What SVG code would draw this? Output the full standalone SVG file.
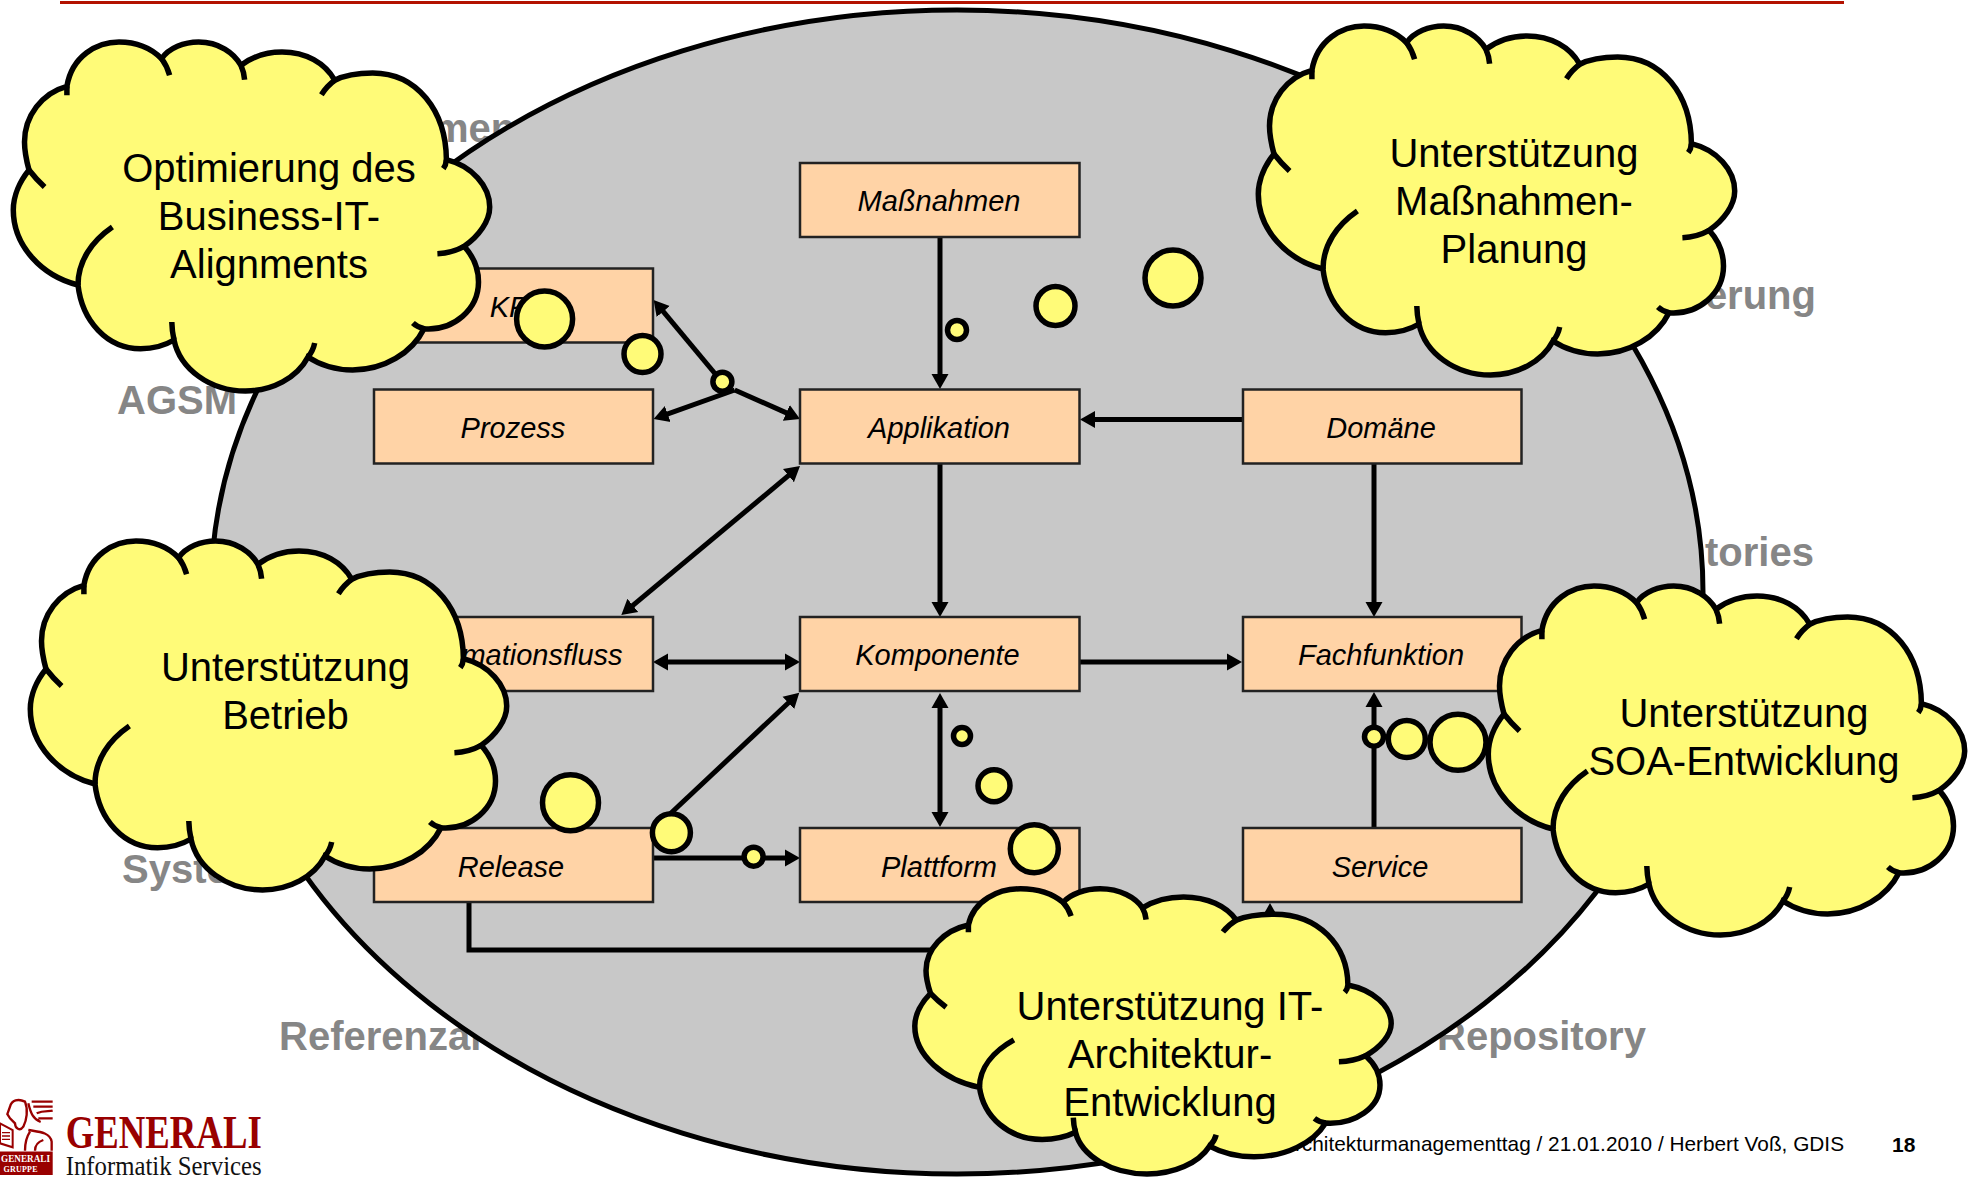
<svg xmlns="http://www.w3.org/2000/svg" width="1975" height="1178" viewBox="0 0 1975 1178">
<style>
.g{font:bold 40px "Liberation Sans",Arial,sans-serif;fill:#868686}
.r{fill:#ffd3a6;stroke:#222;stroke-width:2.5}
.rt{font:italic 29px "Liberation Sans",Arial,sans-serif;fill:#000;text-anchor:middle}
.c{font:40px "Liberation Sans",Arial,sans-serif;fill:#000;text-anchor:middle}
.b{fill:#fffb78;stroke:#000;stroke-width:5.5}
.l{fill:none;stroke:#000;stroke-width:5}
.cf{fill:#fffb78;stroke:#000;stroke-width:5.5;vector-effect:non-scaling-stroke}
.ct{fill:none;stroke:#000;stroke-width:5.5;vector-effect:non-scaling-stroke}
.lw{fill:none;stroke:#990000}
</style>
<defs>
<marker id="a" markerUnits="userSpaceOnUse" markerWidth="20" markerHeight="20" refX="5" refY="10" orient="auto-start-reverse" viewBox="0 0 20 20"><path d="M0 1.5L15 10L0 18.5Z" fill="#000"/></marker>
<g id="cloud">
<path class="cf" d="M54.9 45.3C60 15 85 1 107 1C125 1 140 8 149.6 17.7C157 7 172 1 186.6 1C207 1 222 12 229 24.3C240 16 254 11 270 11C294 11 313 22 322.8 39.3C333 34 347 32 360.7 32C405 32 434 70 434.4 118.7C460 125 477.7 145 477.7 166C477.7 180 467 195 452.2 205.3C461 215 466.5 228 466.5 241C466.5 268 442 290 412 287.7C400 312 372 329 340.6 329C323 329 308 324 296 316C285 337 260 350 233.5 350C198 350 168 328 162 299C152 305 141 307.7 128.6 307.7C95 307.7 70 280 66 244C30 235 1.3 205 1.3 169C1.3 155 8 140 17 129C14 118 12.5 110 12.5 101C12.5 75 30 52 54.9 45.3Z"/>
<path class="ct" d="M54.9 45.3V54.3M149.6 17.7Q155 25 157.6 34.3M229 24.3Q232 31 232.6 38.7M322.8 39.3Q315 45 309.4 53.7M434.4 118.7Q434 124 431.3 127.7M452.2 205.3Q440 212 425.4 212.7M412 287.7Q405 286 400.9 282M296 316Q301 310 302.7 302M162 299Q160 290 159.8 281M66 244C66 220 80 200 100.4 186M17 129Q24 138 32.6 146"/>
</g>
</defs>
<rect width="1975" height="1178" fill="#fff"/>
<path d="M60 2.5H1844" stroke="#b31200" stroke-width="3" fill="none"/>
<g id="labels">
<text class="g" x="433" y="142">men</text>
<text class="g" x="117" y="414">AGSM</text>
<text class="g" x="1816" y="309" text-anchor="end">erung</text>
<text class="g" x="1705" y="566">tories</text>
<text class="g" x="122" y="883">Syste</text>
<text class="g" x="279" y="1050">Referenzar</text>
<text class="g" x="1437" y="1050">Repository</text>
</g>
<ellipse id="scope" cx="957" cy="592" rx="746" ry="582" fill="#c8c8c8" stroke="#000" stroke-width="5"/>
<g id="connectors">
<g class="l">
<path d="M940 238V379" marker-end="url(#a)"/>
<path d="M1242 419.5H1090" marker-end="url(#a)"/>
<path d="M940 463V607" marker-end="url(#a)"/>
<path d="M1374 463V607" marker-end="url(#a)"/>
<path d="M663 662H790" marker-start="url(#a)" marker-end="url(#a)"/>
<path d="M1080 662H1232" marker-end="url(#a)"/>
<path d="M940 703V817" marker-start="url(#a)" marker-end="url(#a)"/>
<path d="M653 858H790" marker-end="url(#a)"/>
<path d="M1374 828V702" marker-end="url(#a)"/>
<path d="M469 902V950H1270V913" marker-end="url(#a)"/>
<path d="M629 608.6L792.3 472.4" marker-start="url(#a)" marker-end="url(#a)"/>
<path d="M653 830L792 699.5" marker-end="url(#a)"/>
<path d="M722 382L660 307.7" marker-end="url(#a)"/>
<path d="M734.7 390L663 415.6" marker-end="url(#a)"/>
<path d="M734.7 390L790.9 414.9" marker-end="url(#a)"/>
</g>
</g>
<g id="n-massnahmen"><rect class="r" x="800" y="163" width="279.5" height="74"/><text class="rt" x="939" y="211">Maßnahmen</text></g>
<g id="n-kpi"><rect class="r" x="374" y="268.5" width="279" height="74"/><text class="rt" x="513" y="317">KPI</text></g>
<g id="n-prozess"><rect class="r" x="374" y="389.5" width="279" height="74"/><text class="rt" x="513" y="438">Prozess</text></g>
<g id="n-applikation"><rect class="r" x="800" y="389.5" width="279.5" height="74"/><text class="rt" x="939" y="438">Applikation</text></g>
<g id="n-domaene"><rect class="r" x="1243" y="389.5" width="278.5" height="74"/><text class="rt" x="1381" y="438">Domäne</text></g>
<g id="n-informationsfluss"><rect class="r" x="374" y="617" width="279" height="74"/><text class="rt" x="513" y="665">Informationsfluss</text></g>
<g id="n-komponente"><rect class="r" x="800" y="617" width="279.5" height="74"/><text class="rt" x="937.5" y="665">Komponente</text></g>
<g id="n-fachfunktion"><rect class="r" x="1243" y="617" width="278.5" height="74"/><text class="rt" x="1381" y="665">Fachfunktion</text></g>
<g id="n-release"><rect class="r" x="374" y="828" width="279" height="74"/><text class="rt" x="511" y="877">Release</text></g>
<g id="n-plattform"><rect class="r" x="800" y="828" width="279.5" height="74"/><text class="rt" x="939" y="877">Plattform</text></g>
<g id="n-service"><rect class="r" x="1243" y="828" width="278.5" height="74"/><text class="rt" x="1380" y="877">Service</text></g>
<g id="bubbles">
<circle class="b" cx="957" cy="330" r="9.5"/><circle class="b" cx="1055.5" cy="306" r="19.5"/><circle class="b" cx="1173" cy="278" r="28"/>
<circle class="b" cx="722.4" cy="381.7" r="9.5"/><circle class="b" cx="642.5" cy="354" r="18.5"/><circle class="b" cx="544.6" cy="319" r="28"/>
<circle class="b" cx="962" cy="736" r="8.5"/><circle class="b" cx="994" cy="785.7" r="16"/><circle class="b" cx="1034.3" cy="848.7" r="24"/>
<circle class="b" cx="753.6" cy="856.7" r="9.5"/><circle class="b" cx="671.4" cy="832.7" r="19"/><circle class="b" cx="570.5" cy="802.7" r="28"/>
<circle class="b" cx="1374" cy="736.7" r="9.5"/><circle class="b" cx="1406.8" cy="739" r="18.5"/><circle class="b" cx="1458" cy="742.3" r="28"/>
</g>
<g id="footer">
<text x="1844" y="1150.5" text-anchor="end" font-family="'Liberation Sans',Arial,sans-serif" font-size="20.8">Architekturmanagementtag / 21.01.2010 / Herbert Voß, GDIS</text>
<text x="1892" y="1152" font-family="'Liberation Sans',Arial,sans-serif" font-size="21" font-weight="bold">18</text>
</g>
<g id="cloud-business">
<use href="#cloud" transform="translate(12 41)"/>
<text class="c" x="269" y="182">Optimierung des</text><text class="c" x="269" y="230">Business-IT-</text><text class="c" x="269" y="278">Alignments</text>
</g>
<g id="cloud-massnahmen">
<use href="#cloud" transform="translate(1257 25)"/>
<text class="c" x="1514" y="167">Unterstützung</text><text class="c" x="1514" y="215">Maßnahmen-</text><text class="c" x="1514" y="263">Planung</text>
</g>
<g id="cloud-betrieb">
<use href="#cloud" transform="translate(29 540)"/>
<text class="c" x="285.5" y="681">Unterstützung</text><text class="c" x="285.5" y="729">Betrieb</text>
</g>
<g id="cloud-soa">
<use href="#cloud" transform="translate(1487 585)"/>
<text class="c" x="1744" y="727">Unterstützung</text><text class="c" x="1744" y="775">SOA-Entwicklung</text>
</g>
<g id="cloud-it">
<use href="#cloud" transform="translate(913.5 888) scale(1 .817)"/>
<text class="c" x="1170" y="1020">Unterstützung IT-</text><text class="c" x="1170" y="1068">Architektur-</text><text class="c" x="1170" y="1116">Entwicklung</text>
</g>
<g id="logo">
<text x="65.7" y="1148" font-family="'Liberation Serif','Times New Roman',serif" font-size="46" font-weight="bold" fill="#990000" textLength="196" lengthAdjust="spacingAndGlyphs">GENERALI</text>
<text x="65.7" y="1175" font-family="'Liberation Serif','Times New Roman',serif" font-size="27" fill="#111" textLength="196" lengthAdjust="spacingAndGlyphs">Informatik Services</text>
<rect x="0" y="1151.5" width="52.7" height="23.5" fill="#990000"/>
<text x="1" y="1162.3" font-family="'Liberation Serif',serif" font-size="10" font-weight="bold" fill="#fff" textLength="49" lengthAdjust="spacingAndGlyphs">GENERALI</text>
<text x="3.5" y="1171.7" font-family="'Liberation Serif',serif" font-size="8" font-weight="bold" fill="#fff" textLength="34">GRUPPE</text>
<g transform="translate(0 1090) scale(.3333)">
<path class="lw" stroke-width="7" d="M30 50C35 30 55 25 75 35C85 60 80 90 70 110C60 125 45 115 45 100L30 85L22 72ZM95 35H158M100 50H158M110 70C130 60 145 65 158 62M115 85H158M85 40C92 70 100 88 122 96M85 120C110 125 150 125 155 155V182M75 182C75 160 80 140 90 125M105 182C105 165 115 155 130 150"/>
<path d="M0 100L38 120V172L0 160Z" fill="#fff" stroke="#990000" stroke-width="6"/>
<path class="lw" stroke-width="4" d="M6 128H30M6 138H30M6 148H30"/>
</g>
</g>
</svg>
